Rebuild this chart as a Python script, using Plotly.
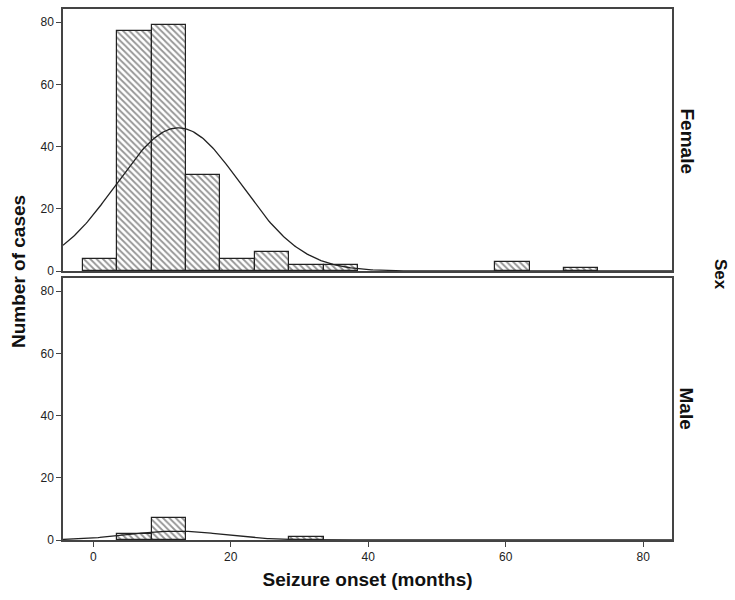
import numpy as np
import plotly.graph_objects as go
from plotly.subplots import make_subplots

# Histogram bins (months), width 5
bin_centers = [1, 6, 11, 16, 21, 26, 31, 36, 41, 46, 51, 56, 61, 66, 71]
female_counts = [4, 77, 79, 31, 4, 6, 2, 2, 0, 0, 0, 0, 3, 0, 1]
male_counts = [0, 2, 7, 0, 0, 0, 1, 0, 0, 0, 0, 0, 0, 0, 0]
bin_width = 5

# Fitted normal curve parameters
female_mean, female_sd, female_n = 12.4, 9.06, 209
male_mean, male_sd, male_n = 12.0, 7.0, 10

x_ticks = [0, 20, 40, 60, 80]
y_ticks = [0, 20, 40, 60, 80]

fig = make_subplots(rows=2, cols=1, shared_xaxes=True, vertical_spacing=0.0132)

xs = np.linspace(-4.4, 84.2, 400)


def normal_curve(mean, sd, n):
    return n * bin_width / (sd * np.sqrt(2 * np.pi)) * np.exp(-0.5 * ((xs - mean) / sd) ** 2)


for row, counts, (m, s, n) in [(1, female_counts, (female_mean, female_sd, female_n)),
                                (2, male_counts, (male_mean, male_sd, male_n))]:
    xc = [c for c, v in zip(bin_centers, counts) if v > 0]
    yc = [v for v in counts if v > 0]
    fig.add_trace(go.Bar(
        x=xc, y=yc, width=bin_width,
        marker=dict(color="white", line=dict(color="#222", width=1.2),
                    pattern=dict(shape="\\", fgcolor="#2a2a2a", bgcolor="white", size=4.5, solidity=0.4)),
        showlegend=False, hoverinfo="skip"), row=row, col=1)
    fig.add_trace(go.Scatter(x=xs, y=normal_curve(m, s, n), mode="lines",
                             line=dict(color="#222", width=1.3), showlegend=False,
                             hoverinfo="skip"), row=row, col=1)

axis_common = dict(showline=True, linecolor="#444", linewidth=1.5, mirror=True,
                   showgrid=False, zeroline=False, ticks="outside", ticklen=5,
                   tickcolor="#444", tickfont=dict(family="Liberation Sans", size=12, color="#222"))

fig.update_xaxes(range=[-4.4, 84.2], tickvals=x_ticks, **axis_common)
fig.update_xaxes(showticklabels=False, ticks="", row=1, col=1)
fig.update_xaxes(title=dict(text="<b>Seizure onset (months)</b>",
                            font=dict(family="Liberation Sans", size=19, color="#111"),
                            standoff=10), row=2, col=1)
fig.update_yaxes(range=[0, 84.2], tickvals=y_ticks, **axis_common)

fig.update_layout(
    width=735, height=600,
    margin=dict(l=63, r=63, t=7, b=60),
    plot_bgcolor="white", paper_bgcolor="white",
    bargap=0,
    font=dict(family="Liberation Sans"),
)

W, H = 735, 600
l, r, t, b = 63, 63, 7, 60
pw, ph = W - l - r, H - t - b


def px_to_paper(px, py):
    return (px - l) / pw, (H - b - py) / ph


for text, px, py, size in [("<b>Female</b>", 687, 139, 19), ("<b>Male</b>", 687, 408, 19),
                           ("<b>Sex</b>", 721, 273, 17)]:
    xp, yp = px_to_paper(px, py)
    fig.add_annotation(text=text, x=xp, y=yp, xref="paper", yref="paper", showarrow=False,
                       textangle=90, font=dict(family="Liberation Sans", size=size, color="#111"),
                       xanchor="center", yanchor="middle")

xp, yp = px_to_paper(18, 270)
fig.add_annotation(text="<b>Number of cases</b>", x=xp, y=yp, xref="paper", yref="paper",
                   showarrow=False, textangle=-90,
                   font=dict(family="Liberation Sans", size=19, color="#111"),
                   xanchor="center", yanchor="middle")

fig.write_html("out.html")
